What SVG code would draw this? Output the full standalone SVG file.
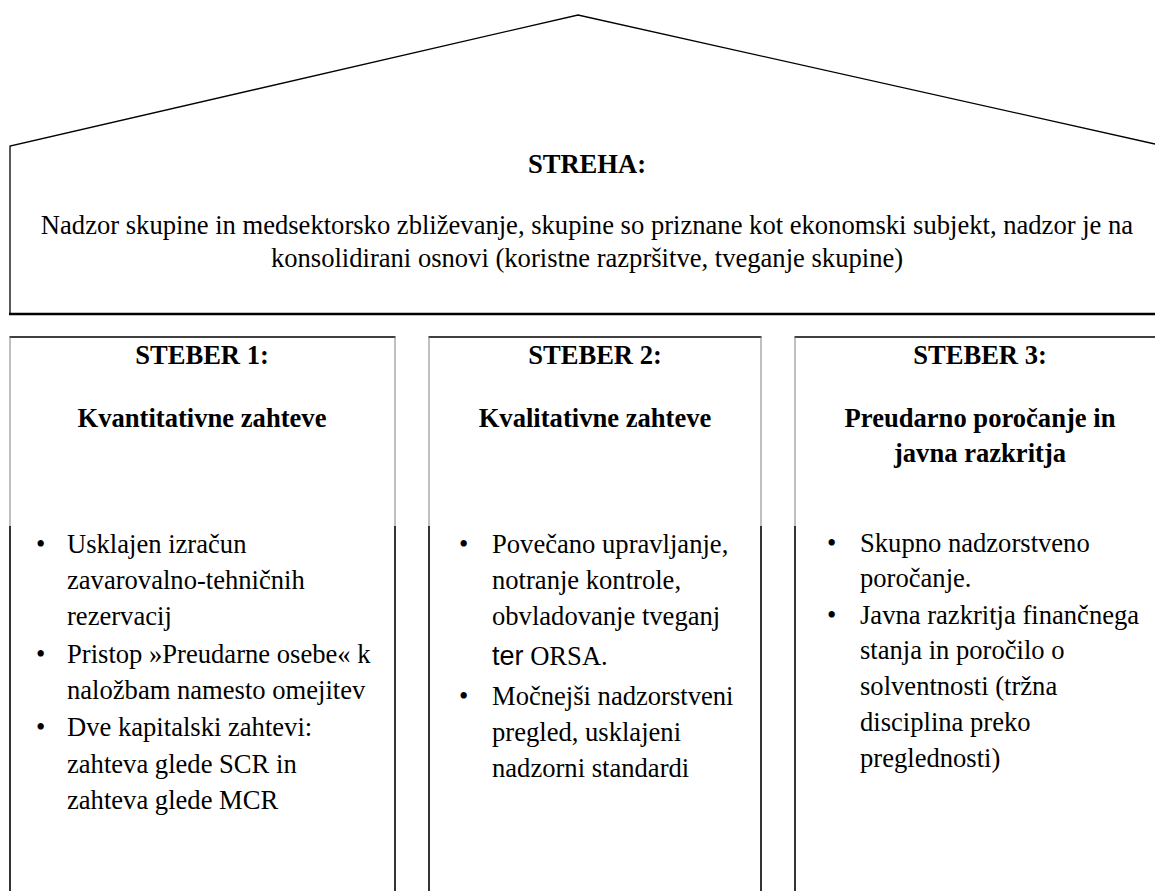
<svg xmlns="http://www.w3.org/2000/svg" width="1155" height="891" viewBox="0 0 1155 891">
<style>
text{font-family:"Liberation Serif","Times New Roman",serif;font-size:26.6px;fill:#000}
.b{font-weight:bold}
.c{text-anchor:middle}
.thin{fill:none;stroke:#000;stroke-width:1.3}
.gray{fill:none;stroke:#808080;stroke-width:1}
.blk{fill:none;stroke:#000;stroke-width:1.6}
.sans{font-family:"Liberation Sans",Arial,sans-serif;font-size:27px}
</style>
<rect width="1155" height="891" fill="#fff"/>
<g id="roof">
<polyline class="thin" points="10,314 10,146 578,15 1155,144"/>
<line x1="9" y1="314" x2="1155" y2="314" stroke="#000" stroke-width="2.6"/>
<text class="b c" x="587" y="173">STREHA:</text>
<text class="c" x="587" y="234">Nadzor skupine in medsektorsko zbliževanje, skupine so priznane kot ekonomski subjekt, nadzor je na</text>
<text class="c" x="587" y="267">konsolidirani osnovi (koristne razpršitve, tveganje skupine)</text>
</g>
<g id="pillar1">
<line class="blk" x1="9.5" y1="337" x2="395.5" y2="337"/>
<polyline class="gray" points="10,337 10,526"/>
<polyline class="gray" points="395,337 395,526"/>
<line class="blk" x1="10" y1="526" x2="10" y2="891"/>
<line class="blk" x1="395" y1="526" x2="395" y2="891"/>
<text class="b c" x="202" y="364">STEBER 1:</text>
<text class="b c" x="202" y="427">Kvantitativne zahteve</text>
<text x="36" y="553">•</text><text x="67" y="553">Usklajen izračun</text>
<text x="67" y="589">zavarovalno-tehničnih</text>
<text x="67" y="625">rezervacij</text>
<text x="36" y="663">•</text><text x="67" y="663">Pristop »Preudarne osebe« k</text>
<text x="67" y="699">naložbam namesto omejitev</text>
<text x="36" y="736">•</text><text x="67" y="736">Dve kapitalski zahtevi:</text>
<text x="67" y="773">zahteva glede SCR in</text>
<text x="67" y="809">zahteva glede MCR</text>
</g>
<g id="pillar2">
<line class="blk" x1="428.5" y1="337" x2="761.5" y2="337"/>
<polyline class="gray" points="429,337 429,526"/>
<polyline class="gray" points="761,337 761,526"/>
<line class="blk" x1="429" y1="526" x2="429" y2="891"/>
<line class="blk" x1="761" y1="526" x2="761" y2="891"/>
<text class="b c" x="595" y="364">STEBER 2:</text>
<text class="b c" x="595" y="427">Kvalitativne zahteve</text>
<text x="459" y="553">•</text><text x="492" y="553">Povečano upravljanje,</text>
<text x="492" y="589">notranje kontrole,</text>
<text x="492" y="625">obvladovanje tveganj</text>
<text x="492" y="665"><tspan class="sans">ter</tspan> ORSA.</text>
<text x="459" y="705">•</text><text x="492" y="705">Močnejši nadzorstveni</text>
<text x="492" y="741">pregled, usklajeni</text>
<text x="492" y="777">nadzorni standardi</text>
</g>
<g id="pillar3">
<line class="blk" x1="794.5" y1="337" x2="1155" y2="337"/>
<polyline class="gray" points="795,337 795,526"/>
<line class="blk" x1="795" y1="526" x2="795" y2="891"/>
<text class="b c" x="980" y="364">STEBER 3:</text>
<text class="b c" x="980" y="427">Preudarno poročanje in</text>
<text class="b c" x="980" y="462">javna razkritja</text>
<text x="827" y="552">•</text><text x="860" y="552">Skupno nadzorstveno</text>
<text x="860" y="587">poročanje.</text>
<text x="827" y="624">•</text><text x="860" y="624">Javna razkritja finančnega</text>
<text x="860" y="659">stanja in poročilo o</text>
<text x="860" y="695">solventnosti (tržna</text>
<text x="860" y="731">disciplina preko</text>
<text x="860" y="767">preglednosti)</text>
</g>
<g id="connectors"></g>
</svg>
